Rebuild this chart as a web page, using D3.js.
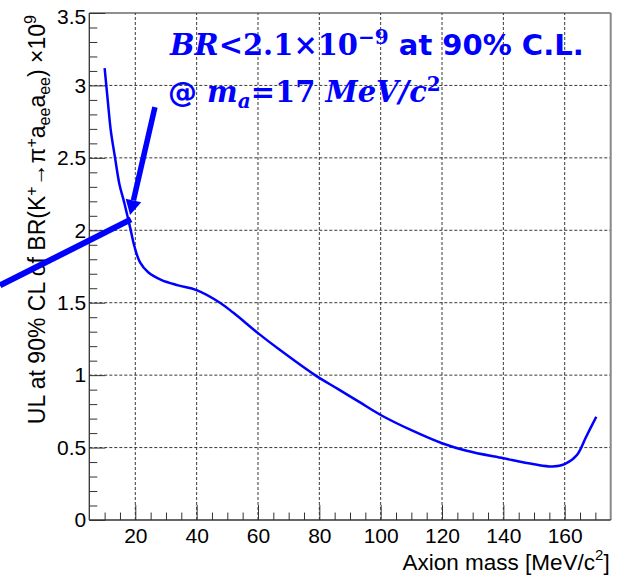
<!DOCTYPE html>
<html>
<head>
<meta charset="utf-8">
<script src="https://cdn.jsdelivr.net/npm/d3@7"></script>
<style>
  body { margin: 0; background: #fff; }
  svg { display: block; }
</style>
</head>
<body>
<script>
// UL curve
const massValues = [10, 11, 12, 13.4, 14.8, 16.4, 18.3, 19.7, 21.5, 24.2, 28.6, 34, 40, 47.6, 52, 60, 67.2, 78.6, 86, 93, 100, 110, 120, 128, 140, 150, 156, 160, 164, 167, 170.3];
const ulValues = [3.12, 2.90, 2.69, 2.50, 2.32, 2.19, 2.02, 1.89, 1.78, 1.71, 1.656, 1.62, 1.587, 1.50, 1.43, 1.29, 1.173, 1.0, 0.905, 0.815, 0.725, 0.62, 0.53, 0.478, 0.426, 0.385, 0.37, 0.386, 0.449, 0.575, 0.713];

const xTicks = [20, 40, 60, 80, 100, 120, 140, 160];
const yTicks = [0, 0.5, 1, 1.5, 2, 2.5, 3, 3.5];

// annotation arrows, in data units
const arrowFrom = [26.4, 2.85];
const arrowTo = [18.3, 2.105];
const lineFrom = [-24.1, 1.62];
const lineTo = [18.6, 2.075];

const width = 623, height = 575;
const margin = {left: 89.3, right: 12.3, top: 13, bottom: 55};
const blue = "#0000ff";

const svg = d3.select("body").append("svg")
    .attr("width", width)
    .attr("height", height);

const x = d3.scaleLinear().domain([5, 175]).range([margin.left, width - margin.right]);
const y = d3.scaleLinear().domain([0, 3.5]).range([height - margin.bottom, margin.top]);

const x0 = x.range()[0], x1 = x.range()[1];
const y0 = y.range()[0], y1 = y.range()[1];

// dotted grid
svg.append("g").selectAll("line")
    .data(xTicks)
    .join("line")
    .attr("x1", d => x(d)).attr("x2", d => x(d))
    .attr("y1", y0).attr("y2", y1)
    .attr("stroke", "#222").attr("stroke-width", 0.9)
    .attr("stroke-dasharray", "3,2");

svg.append("g").selectAll("line")
    .data(yTicks.filter(d => d > 0 && d < 3.5))
    .join("line")
    .attr("x1", x0).attr("x2", x1)
    .attr("y1", d => y(d)).attr("y2", d => y(d))
    .attr("stroke", "#222").attr("stroke-width", 0.9)
    .attr("stroke-dasharray", "3,2");

// frame top / right
svg.append("line")
    .attr("x1", x0).attr("x2", x1).attr("y1", y1).attr("y2", y1)
    .attr("stroke", "#222").attr("stroke-width", 1.2);
svg.append("line")
    .attr("x1", x1).attr("x2", x1).attr("y1", y1).attr("y2", y0)
    .attr("stroke", "#888").attr("stroke-width", 2);

// minor ticks
const xMinor = d3.range(10, 175, 5).filter(d => d % 20 !== 0);
const yMinor = d3.range(1, 35).map(d => d / 10).filter(d => Math.round(d * 10) % 5 !== 0);

svg.append("g")
    .attr("transform", "translate(0," + y0 + ")")
    .call(d3.axisBottom(x).tickValues(xMinor).tickSize(-7.5).tickFormat(""))
    .call(g => g.select(".domain").remove())
    .selectAll("line").attr("stroke", "#333");

svg.append("g")
    .attr("transform", "translate(" + x0 + ",0)")
    .call(d3.axisLeft(y).tickValues(yMinor).tickSize(-8).tickFormat(""))
    .call(g => g.select(".domain").remove())
    .selectAll("line").attr("stroke", "#333");

// major axes
const xAxis = svg.append("g")
    .attr("transform", "translate(0," + y0 + ")")
    .call(d3.axisBottom(x).tickValues(xTicks).tickSize(-15).tickPadding(10).tickSizeOuter(0));
xAxis.select(".domain").attr("d", "M" + x0 + ",0H" + x1).attr("stroke", "#333").attr("stroke-width", 1.3);
xAxis.selectAll(".tick line").attr("stroke", "#333");
xAxis.selectAll("text")
    .attr("y", 8).attr("dy", "0.71em")
    .attr("fill", "#000")
    .style("font-family", "Liberation Sans, Arial, sans-serif")
    .style("font-size", "21px");

const yAxis = svg.append("g")
    .attr("transform", "translate(" + x0 + ",0)")
    .call(d3.axisLeft(y).tickValues(yTicks).tickSize(-16).tickPadding(3)
        .tickFormat(d => d3.format("")(d)).tickSizeOuter(0));
yAxis.select(".domain").attr("d", "M0," + y0 + "V" + y1).attr("stroke", "#333").attr("stroke-width", 1.3);
yAxis.selectAll(".tick line").attr("stroke", "#333");
yAxis.selectAll("text")
    .attr("x", -3)
    .attr("fill", "#000")
    .style("font-family", "Liberation Sans, Arial, sans-serif")
    .style("font-size", "21px");
// top label is pushed down a little, as in the original
yAxis.selectAll("text").filter(d => d === 3.5).attr("dy", "0.5em");

// axis titles
const xTitle = svg.append("text")
    .attr("x", x1 - 1).attr("y", 570)
    .attr("text-anchor", "end")
    .style("font-family", "Liberation Sans, Arial, sans-serif")
    .style("font-size", "22.5px");
xTitle.append("tspan").text("Axion mass [MeV/c");
xTitle.append("tspan").attr("dy", -10).style("font-size", "15px").text("2");
xTitle.append("tspan").attr("dy", 10).text("]");

const yTitle = svg.append("text")
    .attr("transform", "translate(45," + (y1 + 2) + ") rotate(-90)")
    .attr("text-anchor", "end")
    .style("font-family", "Liberation Sans, Arial, sans-serif")
    .style("font-size", "23px");
yTitle.append("tspan").text("UL at 90% CL of BR(K");
yTitle.append("tspan").attr("dy", -8).style("font-size", "16px").text("+");
yTitle.append("tspan").attr("dy", 8).text("\u2192\u03c0");
yTitle.append("tspan").attr("dy", -8).style("font-size", "16px").text("+");
yTitle.append("tspan").attr("dy", 8).text("a");
yTitle.append("tspan").attr("dy", 5).style("font-size", "16px").text("ee");
yTitle.append("tspan").attr("dy", -5).text("a");
yTitle.append("tspan").attr("dy", 5).style("font-size", "16px").text("ee");
yTitle.append("tspan").attr("dy", -5).text(") \u00d710");
yTitle.append("tspan").attr("dy", -9).style("font-size", "16px").text("9");

// UL curve
const line = d3.line()
    .x((d, i) => x(massValues[i]))
    .y(d => y(d))
    .curve(d3.curveCatmullRom.alpha(0.5));

svg.append("path")
    .attr("d", line(ulValues))
    .attr("fill", "none")
    .attr("stroke", blue)
    .attr("stroke-width", 2.5);

// annotation: thick line and arrow
svg.append("line")
    .attr("x1", x(lineFrom[0])).attr("y1", y(lineFrom[1]))
    .attr("x2", x(lineTo[0])).attr("y2", y(lineTo[1]))
    .attr("stroke", blue).attr("stroke-width", 6);

const ax1 = x(arrowFrom[0]), ay1 = y(arrowFrom[1]);
const ax2 = x(arrowTo[0]), ay2 = y(arrowTo[1]);
const ang = Math.atan2(ay2 - ay1, ax2 - ax1);
const headLen = 15, headW = 8;
const bx = ax2 - headLen * Math.cos(ang), by = ay2 - headLen * Math.sin(ang);
svg.append("line")
    .attr("x1", ax1).attr("y1", ay1)
    .attr("x2", bx).attr("y2", by)
    .attr("stroke", blue).attr("stroke-width", 5.5);
svg.append("path")
    .attr("d", "M" + ax2 + "," + ay2 +
        "L" + (bx + headW * Math.sin(ang)) + "," + (by - headW * Math.cos(ang)) +
        "L" + (bx - headW * Math.sin(ang)) + "," + (by + headW * Math.cos(ang)) + "Z")
    .attr("fill", blue);

// annotation text
const serif = "DejaVu Serif, serif";
const sans = "DejaVu Sans, Verdana, sans-serif";

const t1 = svg.append("text")
    .attr("x", 170).attr("y", 55)
    .attr("fill", blue)
    .style("font-weight", "bold")
    .style("font-size", "29px");
t1.append("tspan").style("font-family", serif).style("font-style", "italic").text("BR");
t1.append("tspan").style("font-family", serif).text("<2.1\u00d710");
t1.append("tspan").attr("dy", -11).style("font-family", serif).style("font-size", "20px").text("\u22129");
t1.append("tspan").attr("dy", 11).style("font-family", sans).style("font-size", "29px").text(" at 90% C.L.");

const t2 = svg.append("text")
    .attr("x", 168).attr("y", 102)
    .attr("fill", blue)
    .style("font-weight", "bold")
    .style("font-size", "29px");
t2.append("tspan").style("font-family", sans).text("@ ");
t2.append("tspan").style("font-family", serif).style("font-style", "italic").text("m");
t2.append("tspan").attr("dy", 6).style("font-family", serif).style("font-style", "italic").style("font-size", "20px").text("a");
t2.append("tspan").attr("dy", -6).style("font-family", serif).text("=17 ");
t2.append("tspan").style("font-family", serif).style("font-style", "italic").text("MeV/c");
t2.append("tspan").attr("dy", -11).style("font-family", serif).style("font-size", "20px").text("2");
</script>
</body>
</html>
